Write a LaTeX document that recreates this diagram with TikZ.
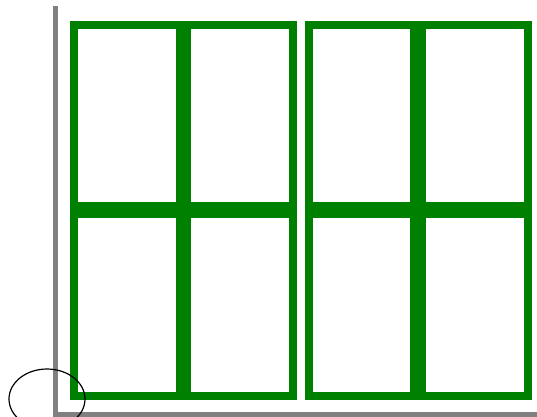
\documentclass[tikz,border=0pt]{standalone}
\definecolor{framegreen}{RGB}{0,128,0}
\definecolor{axisgray}{RGB}{128,128,128}
\tikzset{
  pane/.style={draw=framegreen, line width=8pt, rectangle, inner sep=0pt, minimum width=105.5pt, minimum height=180.7pt},
  axisline/.style={draw=axisgray, line width=5pt},
  marker/.style={draw=black, line width=1.2pt, ellipse, inner sep=0pt, minimum width=76pt, minimum height=60pt}
}
\usetikzlibrary{shapes.geometric}
\begin{document}
\begin{tikzpicture}[x=1pt,y=-1pt]
\useasboundingbox (0,0) rectangle (537,416);
\coordinate (axtop) at (55,6);
\coordinate (origin) at (55,414);
\coordinate (axright) at (540,414);
\draw[axisline] (axtop) -- (origin) -- (axright);
% panes (stroke centre boxes)
\node[pane] (p11) at (126.75,115.65) {};
\node[pane] (p12) at (240.05,115.65) {};
\node[pane] (p13) at (361.35,115.65) {};
\node[pane] (p14) at (474.85,115.65) {};
\node[pane, minimum height=182pt] (p21) at (126.75,305) {};
\node[pane, minimum height=182pt] (p22) at (240.05,305) {};
\node[pane, minimum height=182pt] (p23) at (361.35,305) {};
\node[pane, minimum height=182pt] (p24) at (474.85,305) {};
\node[marker] (mark) at (47,399) {};
\end{tikzpicture}
\end{document}
